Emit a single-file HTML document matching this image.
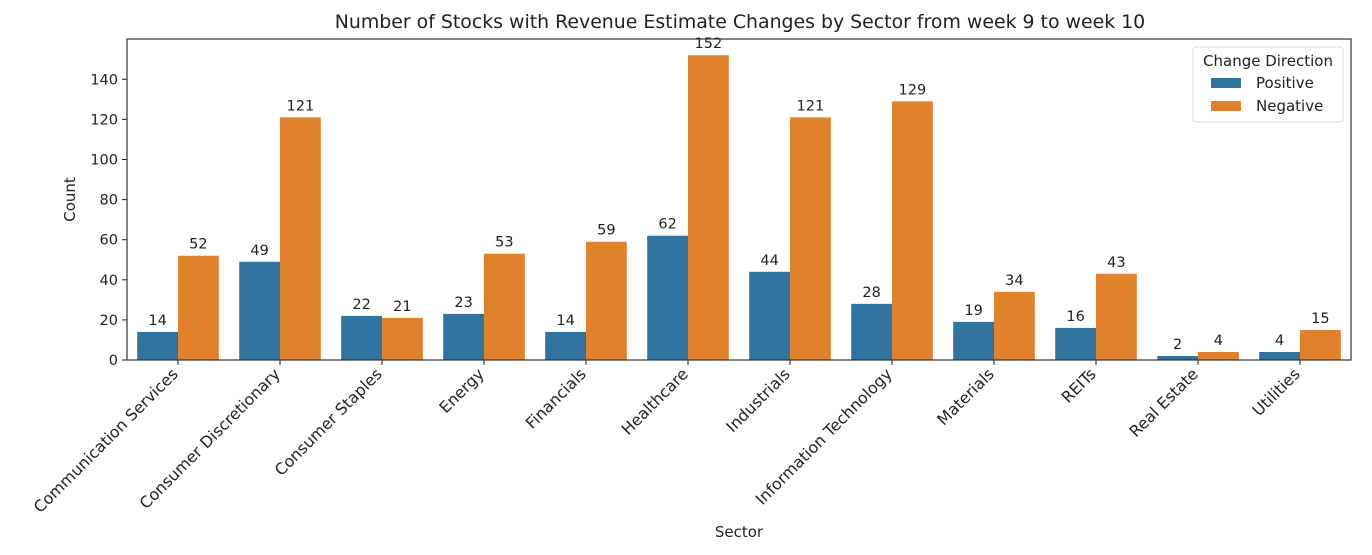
<!DOCTYPE html>
<html><head><meta charset="utf-8"><style>body{margin:0;background:#fff}svg{font-family:"DejaVu Sans","Liberation Sans",sans-serif}</style></head>
<body>
<svg id="chart" width="1372" height="550" xmlns="http://www.w3.org/2000/svg"></svg>
<script>
const categories=["Communication Services","Consumer Discretionary","Consumer Staples","Energy","Financials","Healthcare","Industrials","Information Technology","Materials","REITs","Real Estate","Utilities"];
const positive=[14,49,22,23,14,62,44,28,19,16,2,4];
const negative=[52,121,21,53,59,152,121,129,34,43,4,15];
const yTicks=[0,20,40,60,80,100,120,140];
const L=127,R=1351,T=39,B=360,YMAX=160.1;
const svg=document.getElementById('chart');
const NS='http://www.w3.org/2000/svg';
function mk(t,a,txt){const e=document.createElementNS(NS,t);for(const k in a)e.setAttribute(k,a[k]);if(txt!==undefined)e.textContent=txt;svg.appendChild(e);return e;}
const bw=(R-L)/categories.length;
function y(v){return B-(v/YMAX)*(B-T);}
function xc(i){return L+(i+0.5)*bw;}
const t=mk('text',{x:(L+R)/2+1,y:28,'text-anchor':'middle','font-size':18.9,fill:'#222'},'Number of Stocks with Revenue Estimate Changes by Sector from week 9 to week 10');

yTicks.forEach(v=>{
 const l=mk('line',{x1:L-5,x2:L,y1:y(v),y2:y(v),stroke:'#222','stroke-width':1});
 
 const tx=mk('text',{x:L-9,y:y(v)+5,'text-anchor':'end','font-size':14.5,fill:'#222'},v);
 
});
const w=bw*0.4;
categories.forEach((c,i)=>{
 const cx=xc(i);
 [[positive[i],'#3274a1',-1,'bar-positive'],[negative[i],'#e1812c',0,'bar-negative']].forEach(([v,col,off,nm])=>{
  const x0=cx+off*w;
  const r=mk('rect',{x:x0,y:y(v),width:w,height:B-y(v),fill:col});
  
  const lb=mk('text',{x:x0+w/2,y:y(v)-7,'text-anchor':'middle','font-size':14.5,fill:'#222'},v);
  
 });
 const tk=mk('line',{x1:cx,x2:cx,y1:B,y2:B+5,stroke:'#222','stroke-width':1});
 
 const ax=cx+1, ay=B+15;
 const xl=mk('text',{x:ax,y:ay,'text-anchor':'end','font-size':15.8,fill:'#222',transform:`rotate(-45 ${ax} ${ay})`},c);
 
});
const fr=mk('rect',{x:L,y:T,width:R-L,height:B-T,fill:'none',stroke:'#333','stroke-width':1.2});

const yt=mk('text',{x:75,y:(T+B)/2,'text-anchor':'middle','font-size':15,fill:'#222',transform:`rotate(-90 75 ${(T+B)/2})`},'Count');

const xt=mk('text',{x:(L+R)/2,y:537,'text-anchor':'middle','font-size':15,fill:'#222'},'Sector');

const lg=mk('rect',{x:1193,y:47,width:150,height:75,rx:3,fill:'#fff',stroke:'#ddd'});

const lt=mk('text',{x:1268,y:66,'text-anchor':'middle','font-size':15,fill:'#222'},'Change Direction');

[['Positive','#3274a1',83],['Negative','#e1812c',106]].forEach(([n,c,yy])=>{
 const s=mk('rect',{x:1211,y:yy-5,width:30,height:10,fill:c});
 
 const tx=mk('text',{x:1256,y:yy+5,'font-size':15,fill:'#222'},n);
 
});
</script>
</body></html>
